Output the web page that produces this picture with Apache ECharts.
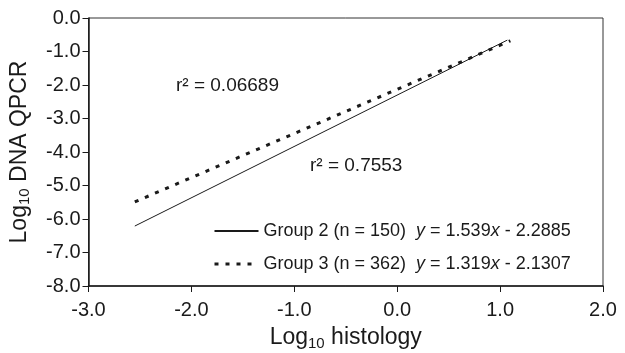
<!DOCTYPE html>
<html>
<head>
<meta charset="utf-8">
<script src="https://cdn.jsdelivr.net/npm/echarts@6/dist/echarts.min.js"></script>
<style>
html, body { margin: 0; padding: 0; background: #fff; }
#main { width: 625px; height: 353px; }
</style>
</head>
<body>
<div id="main"></div>
<script>
// endpoints of the two fitted lines
var group2Line = [[-2.55, -6.21], [1.07, -0.66]];
var group3Line = [[-2.55, -5.49], [1.10, -0.68]];
var group2Label = '{t|Group 2 (n = 150)}  {i|y}{t| = 1.539}{i|x}{t| - 2.2885}';
var group3Label = '{t|Group 3 (n = 362)}  {i|y}{t| = 1.319}{i|x}{t| - 2.1307}';
var r2Texts = ['r\u00b2 = 0.06689', 'r\u00b2 = 0.7553'];

var chart = echarts.init(document.getElementById('main'));
var font = 'Liberation Sans, Arial, sans-serif';
var ink = '#1a1a1a';

function fmt(v) { return v.toFixed(1); }

var nameRich = {
    a: { fontSize: 23, fontFamily: font, color: ink, lineHeight: 26, verticalAlign: 'middle' },
    b: { fontSize: 15, fontFamily: font, color: ink, lineHeight: 13, verticalAlign: 'bottom' }
};

var option = {
    animation: false,
    textStyle: { fontFamily: font, color: ink },
    grid: {
        left: 88.5, right: 22, top: 18, bottom: 67,
        containLabel: false, outerBoundsMode: 'none',
        show: true, borderColor: '#333', borderWidth: 1
    },
    legend: {
        orient: 'vertical',
        left: 208,
        top: 217,
        itemWidth: 44,
        itemHeight: 14,
        itemGap: 15,
        data: [
            { name: 'g2' },
            { name: 'g3', lineStyle: { width: 3, type: [4, 7], color: ink } }
        ],
        itemStyle: { color: 'transparent', borderWidth: 0 },
        formatter: function (name) {
            return name == 'g2' ? group2Label : group3Label;
        },
        textStyle: {
            fontFamily: font,
            color: ink,
            fontSize: 18,
            rich: {
                t: { fontSize: 18, fontFamily: font, color: ink },
                i: { fontSize: 18, fontFamily: font, color: ink, fontStyle: 'italic' }
            }
        }
    },
    xAxis: {
        type: 'value',
        min: -3, max: 2, interval: 1,
        name: '{a|Log}{b|10}{a| histology}',
        nameLocation: 'middle',
        nameGap: 39,
        nameTextStyle: { rich: nameRich },
        axisLine: { onZero: false, lineStyle: { color: ink, width: 1.5 } },
        axisTick: { length: 6, lineStyle: { color: ink } },
        axisLabel: { formatter: fmt, fontSize: 20, color: ink, margin: 14 },
        splitLine: { show: false }
    },
    yAxis: {
        type: 'value',
        min: -8, max: 0, interval: 1,
        name: '{a|Log}{b|10}{a| DNA QPCR}',
        nameLocation: 'middle',
        nameRotate: 90,
        nameGap: 56,
        nameTextStyle: { rich: nameRich },
        axisLine: { show: true, onZero: false, lineStyle: { color: ink, width: 1.5 } },
        axisTick: { show: true, length: 6, lineStyle: { color: ink } },
        axisLabel: { formatter: fmt, fontSize: 20, color: ink, margin: 8 },
        splitLine: { show: false }
    },
    graphic: [
        { type: 'text', left: 176, top: 76, style: { text: r2Texts[0], fontSize: 19, fontFamily: font, fill: ink } },
        { type: 'text', left: 310, top: 156, style: { text: r2Texts[1], fontSize: 19, fontFamily: font, fill: ink } }
    ],
    series: [
        {
            name: 'g2',
            type: 'line',
            data: group2Line,
            symbol: 'none',
            lineStyle: { color: ink, width: 1 },
            itemStyle: { color: ink }
        },
        {
            name: 'g3',
            type: 'line',
            data: group3Line,
            symbol: 'none',
            lineStyle: { color: ink, width: 3, type: [4, 7] },
            itemStyle: { color: ink }
        }
    ]
};
chart.setOption(option);
</script>
</body>
</html>
